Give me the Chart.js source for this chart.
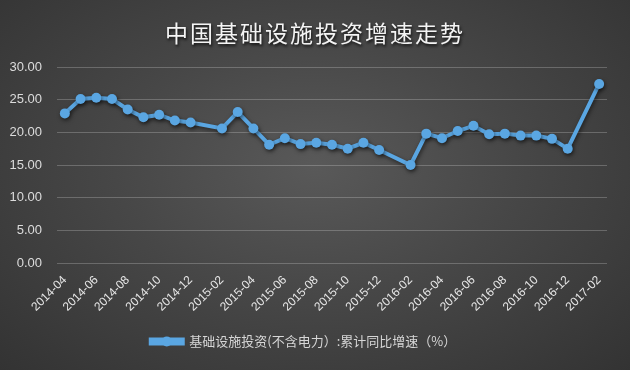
<!DOCTYPE html>
<html lang="zh">
<head>
    <meta charset="UTF-8" />
    <title>中国基础设施投资增速走势</title>
    <script src="https://cdn.jsdelivr.net/npm/chart.js"></script>
    <style>
        html, body {
            margin: 0;
            padding: 0;
        }
        body {
            width: 630px;
            height: 370px;
            overflow: hidden;
            background: radial-gradient(ellipse at 50% 45%, #595959 0%, #474747 45%, #333333 100%);
            font-family: 'Noto Sans CJK SC', 'Noto Sans', sans-serif;
        }
        .wrap {
            position: relative;
            width: 630px;
            height: 370px;
        }
        .title {
            position: absolute;
            top: 15px;
            left: 0;
            width: 630px;
            text-align: center;
            color: #f4f4f4;
            font-size: 23px;
            letter-spacing: 2px;
            text-shadow: 1px 2px 3px rgba(0, 0, 0, 0.8);
        }
    </style>
</head>
<body>
<div class="wrap">
    <div class="title">中国基础设施投资增速走势</div>
    <canvas id="lineChart" width="630" height="370"></canvas>
</div>

<script>
    // months 2014-04 .. 2017-02, January has no separate figure
    const months = [
        '2014-04', '2014-05', '2014-06', '2014-07', '2014-08', '2014-09', '2014-10', '2014-11', '2014-12',
        '2015-01', '2015-02', '2015-03', '2015-04', '2015-05', '2015-06', '2015-07', '2015-08', '2015-09',
        '2015-10', '2015-11', '2015-12',
        '2016-01', '2016-02', '2016-03', '2016-04', '2016-05', '2016-06', '2016-07', '2016-08', '2016-09',
        '2016-10', '2016-11', '2016-12',
        '2017-01', '2017-02'
    ];
    const growth = [
        22.9, 25.1, 25.3, 25.1, 23.5, 22.3, 22.7, 21.8, 21.5,
        null, 20.6, 23.1, 20.6, 18.1, 19.1, 18.2, 18.4, 18.1,
        17.5, 18.4, 17.3,
        null, 15.0, 19.8, 19.1, 20.2, 21.0, 19.7, 19.8, 19.5,
        19.5, 19.0, 17.5,
        null, 27.4
    ];
    const seriesName = '基础设施投资(不含电力）:累计同比增速（%）';

    const blue = '#5aa6e2';

    // soft shadow under the line and points
    const shadowPlugin = {
        id: 'lineShadow',
        beforeDatasetsDraw(chart) {
            const ctx = chart.ctx;
            ctx.save();
            ctx.shadowColor = 'rgba(0,0,0,0.55)';
            ctx.shadowBlur = 4;
            ctx.shadowOffsetX = 1;
            ctx.shadowOffsetY = 2;
        },
        afterDatasetsDraw(chart) {
            chart.ctx.restore();
        }
    };

    // put a dot on the legend line
    const legendDot = {
        id: 'legendDot',
        afterDraw(chart) {
            const boxes = chart.legend && chart.legend.legendHitBoxes;
            if (!boxes || !boxes.length) return;
            const b = boxes[0];
            const ctx = chart.ctx;
            const bw = chart.legend.options.labels.boxWidth;
            ctx.save();
            ctx.fillStyle = blue;
            ctx.beginPath();
            ctx.arc(b.left + bw / 2, b.top + b.height / 2, 5, 0, Math.PI * 2);
            ctx.fill();
            ctx.restore();
        }
    };

    const ctx = document.getElementById('lineChart').getContext('2d');
    new Chart(ctx, {
        type: 'line',
        data: {
            labels: months,
            datasets: [{
                label: seriesName,
                data: growth,
                borderColor: blue,
                backgroundColor: blue,
                borderWidth: 4,
                pointRadius: 5,
                pointBackgroundColor: blue,
                pointBorderWidth: 0,
                spanGaps: true,
                tension: 0
            }]
        },
        options: {
            responsive: false,
            animation: false,
            layout: {
                padding: { top: 67, right: 23, left: 0, bottom: 12 }
            },
            plugins: {
                tooltip: { enabled: false },
                legend: {
                    position: 'bottom',
                    labels: {
                        color: '#d6d6d6',
                        boxWidth: 32,
                        boxHeight: 4,
                        padding: 10,
                        font: { family: "'Noto Sans CJK SC', sans-serif", size: 13 }
                    }
                }
            },
            scales: {
                x: {
                    offset: true,
                    grid: { display: false },
                    border: { display: false },
                    afterFit(scale) { scale.height = 62; },
                    ticks: {
                        color: '#e6e6e6',
                        autoSkip: false,
                        minRotation: 45,
                        maxRotation: 45,
                        padding: 2,
                        font: { family: "'Liberation Sans', sans-serif", size: 12 },
                        callback(value, index) {
                            return index % 2 === 0 ? months[index] : '';
                        }
                    }
                },
                y: {
                    min: 0,
                    max: 30,
                    afterFit(scale) { scale.width = 57; },
                    grid: {
                        color: 'rgba(255,255,255,0.22)',
                        drawTicks: false
                    },
                    border: { display: false },
                    ticks: {
                        stepSize: 5,
                        color: '#dcdcdc',
                        padding: 15,
                        font: { family: "'Liberation Sans', sans-serif", size: 13 },
                        callback(value) { return value.toFixed(2); }
                    }
                }
            }
        },
        plugins: [shadowPlugin, legendDot]
    });
</script>
</body>
</html>
